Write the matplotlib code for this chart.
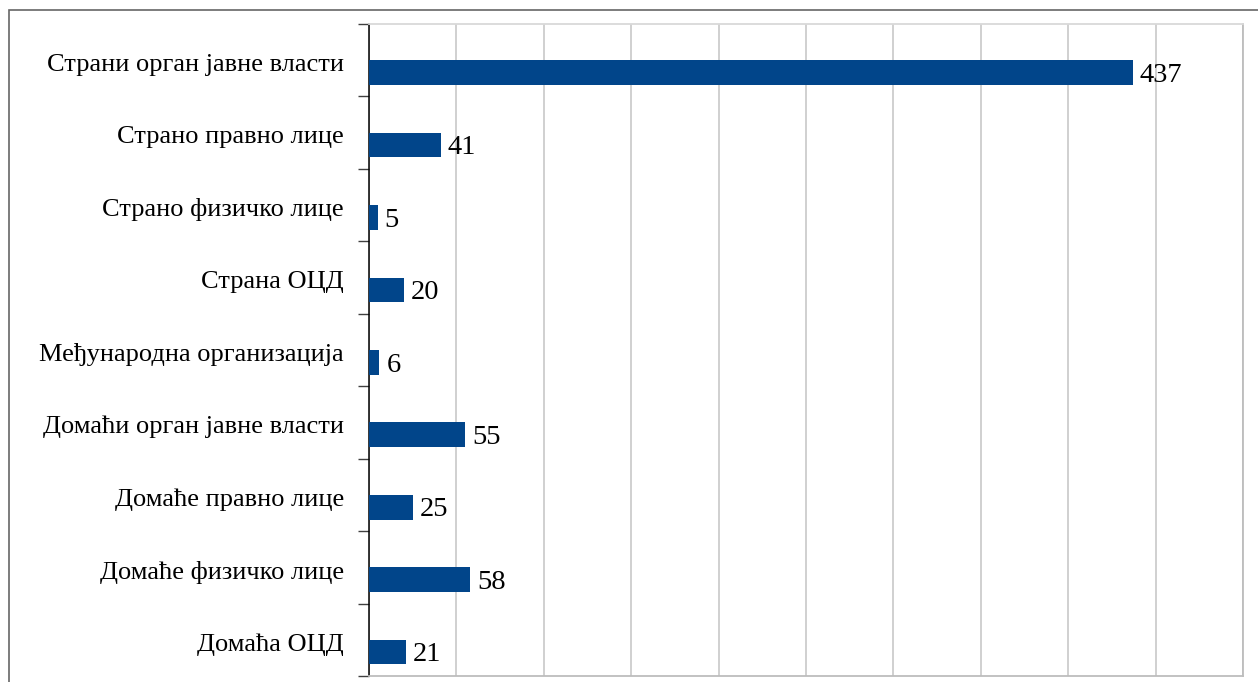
import matplotlib.pyplot as plt
from matplotlib.patches import Rectangle
import numpy as np

categories = ["Страни орган јавне власти", "Страно правно лице", "Страно физичко лице",
              "Страна ОЦД", "Међународна организација", "Домаћи орган јавне власти",
              "Домаће правно лице", "Домаће физичко лице", "Домаћа ОЦД"]
values = [437, 41, 5, 20, 6, 55, 25, 58, 21]

plt.rcParams['font.family'] = ['Liberation Serif', 'DejaVu Serif']

fig = plt.figure(figsize=(12.58, 6.82), dpi=100)
W, H = 1258, 682
# outer chart frame (cropped on the right and bottom)
fig.patches.append(Rectangle((9 / W, -0.05), 1.1, 1 - 10 / H + 0.05, transform=fig.transFigure,
                             fill=False, edgecolor='#666666', linewidth=1.2))

ax = fig.add_axes([369 / W, 1 - 676 / H, (1243 - 369) / W, (676 - 24) / H])

pos = np.arange(len(categories))
ax.barh(pos + 0.17, values, height=0.34, color='#01458A', zorder=3)
for p, v in zip(pos, values):
    ax.annotate(str(v), (v, p + 0.17), xytext=(5, -2), textcoords='offset points',
                va='center', ha='left', fontsize=20.5, color='black', zorder=4)

ax.set_xlim(0, 500)
ax.set_ylim(len(categories) - 0.5, -0.5)
ax.set_xticks(np.arange(0, 501, 50))
ax.xaxis.grid(True, color='#c4c4c4', linewidth=1.1, zorder=0)
ax.tick_params(axis='x', length=0, labelbottom=False)

ax.set_yticks(np.arange(-0.5, len(categories), 1))
ax.set_yticklabels([])
ax.tick_params(axis='y', which='major', length=8, width=1, color='#404040', direction='out')
ax.set_yticks(pos + 0.03, minor=True)
ax.set_yticklabels(categories, minor=True, fontsize=19)
ax.tick_params(axis='y', which='minor', length=0, pad=18)

ax.spines['left'].set_color('black')
ax.spines['left'].set_linewidth(1.1)
ax.spines['top'].set_color('#d9d9d9')
ax.spines['right'].set_color('#bdbdbd')
ax.spines['bottom'].set_color('#bdbdbd')
for s in ['top', 'right', 'bottom']:
    ax.spines[s].set_linewidth(1.3)

plt.savefig('out.png', dpi=100)
